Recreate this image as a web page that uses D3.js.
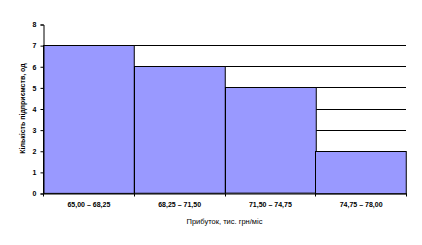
<!DOCTYPE html>
<html>
<head>
<meta charset="utf-8">
<script src="https://cdn.jsdelivr.net/npm/d3@7"></script>
<style>
  body { margin: 0; background: #fff; }
  svg { display: block; }
  text { font-family: "Liberation Sans", Arial, sans-serif; }
</style>
</head>
<body>
<script>
const WIDTH = 422;
const HEIGHT = 245;

// дані
const intervals = ["65,00 – 68,25", "68,25 – 71,50", "71,50 – 74,75", "74,75 – 78,00"];
const counts = [7, 6, 5, 2];
const yTicks = [0, 1, 2, 3, 4, 5, 6, 7, 8];
const gridValues = [1, 2, 3, 4, 5, 6, 7];

const margin = { top: 24, right: 16, bottom: 52, left: 43 };

const SVG = d3.select("body")
  .append("svg")
  .attr("width", WIDTH)
  .attr("height", HEIGHT);

const x = d3.scaleBand()
  .domain(intervals)
  .range([margin.left, WIDTH - margin.right])
  .padding(0);

const y = d3.scaleLinear()
  .domain([0, 8])
  .range([HEIGHT - margin.bottom, margin.top]);

// сітка
SVG.append("g")
  .selectAll("line")
  .data(gridValues)
  .join("line")
  .attr("x1", margin.left)
  .attr("x2", WIDTH - margin.right)
  .attr("y1", (d) => Math.round(y(d)) + 0.5)
  .attr("y2", (d) => Math.round(y(d)) + 0.5)
  .attr("stroke", "#000")
  .attr("stroke-width", 1);

// стовпці
SVG.append("g")
  .selectAll("rect")
  .data(counts)
  .join("rect")
  .attr("x", (d, i) => Math.round(x(intervals[i])) + 0.5)
  .attr("y", (d) => Math.round(y(d)) + 0.5)
  .attr("width", x.bandwidth())
  .attr("height", (d) => y(0) - y(d))
  .attr("fill", "#9999FF")
  .attr("stroke", "#000")
  .attr("stroke-width", 1);

// вісь Y
const yAxis = SVG.append("g")
  .attr("transform", `translate(${margin.left + 0.5},0.5)`)
  .call(d3.axisLeft(y).tickValues(yTicks).tickSize(3).tickPadding(4).tickFormat(d3.format("d")));
yAxis.select(".domain").attr("stroke", "#000");
yAxis.selectAll("text")
  .attr("font-size", 7)
  .attr("font-weight", "bold")
  .attr("fill", "#000");

// вісь X
const xAxis = SVG.append("g")
  .attr("transform", `translate(0.5,${Math.round(y(0)) + 0.5})`)
  .call(d3.axisBottom(x).tickSize(0).tickPadding(9));
xAxis.select(".domain").attr("stroke", "#000");
xAxis.selectAll("text")
  .attr("font-size", 7)
  .attr("font-weight", "bold")
  .attr("fill", "#000");

// поділки на межах інтервалів
const edges = intervals.map((d) => x(d)).concat([x(intervals[intervals.length - 1]) + x.bandwidth()]);
xAxis.append("g")
  .selectAll("line")
  .data(edges)
  .join("line")
  .attr("x1", (d) => Math.round(d))
  .attr("x2", (d) => Math.round(d))
  .attr("y1", 0)
  .attr("y2", 3)
  .attr("stroke", "#000");

// підписи осей
SVG.append("text")
  .attr("x", (margin.left + WIDTH - margin.right) / 2)
  .attr("y", 224)
  .attr("text-anchor", "middle")
  .attr("font-size", 7.5)
  .text("Прибуток, тис. грн/міс");

SVG.append("text")
  .attr("transform", `translate(25,${(y(0) + y(8)) / 2}) rotate(-90)`)
  .attr("text-anchor", "middle")
  .attr("font-size", 7)
  .attr("font-weight", "bold")
  .text("Кількість підприємств, од");
</script>
</body>
</html>
